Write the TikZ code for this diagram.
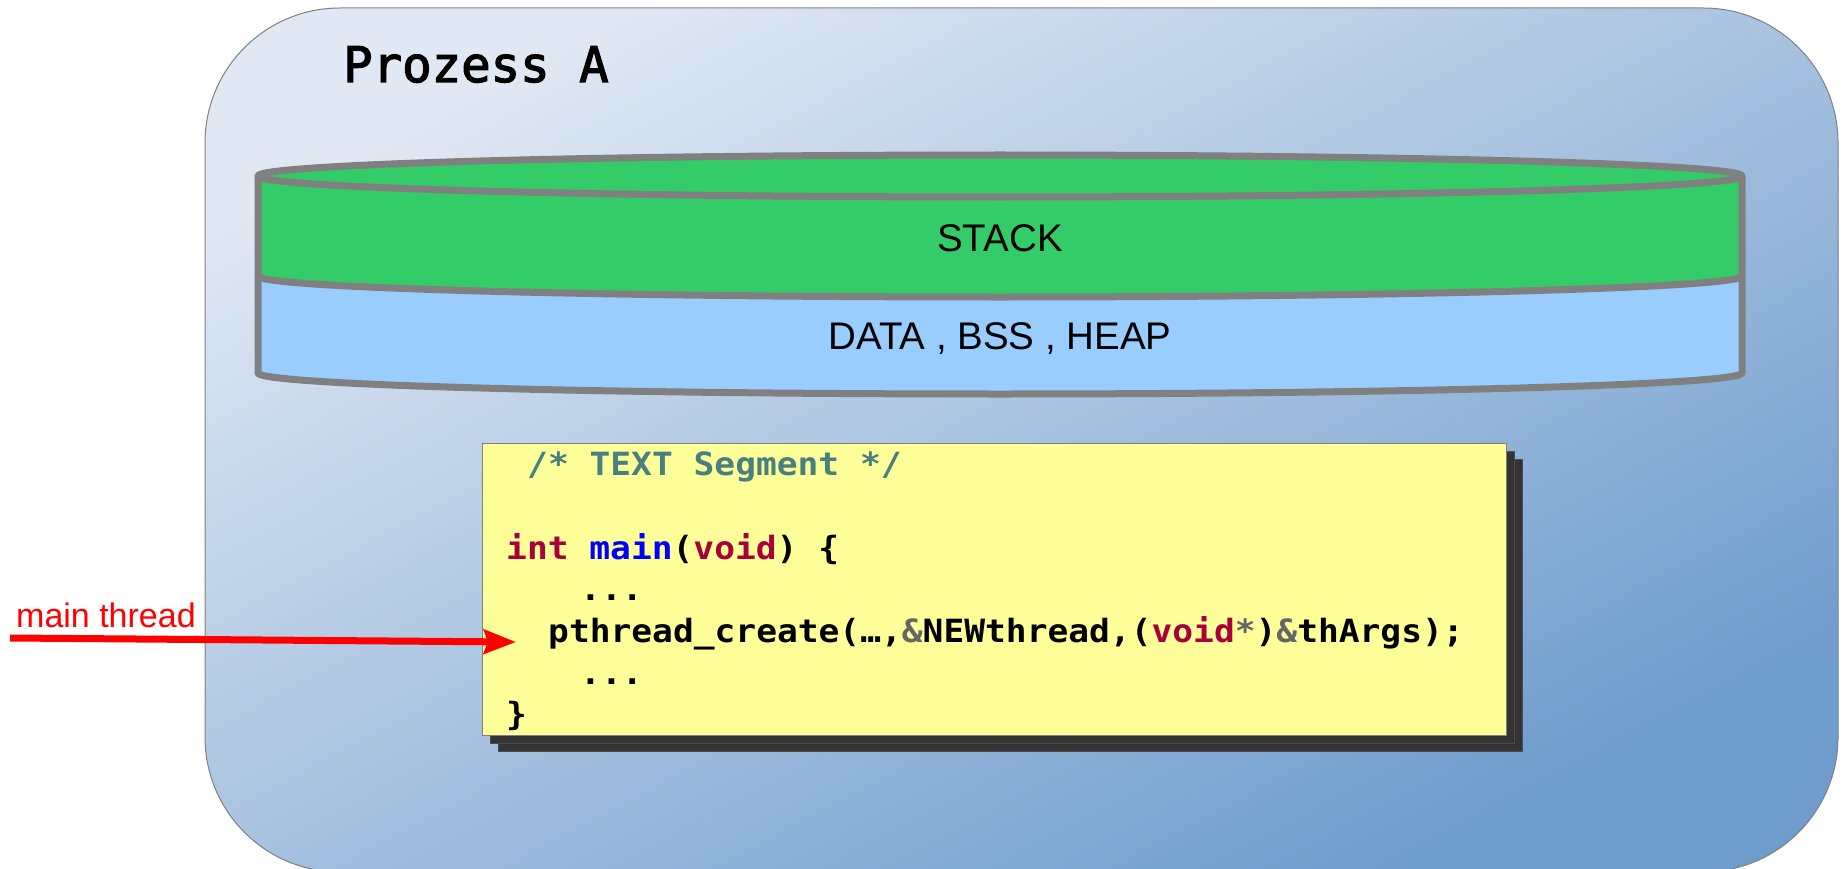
\documentclass[tikz,border=0pt]{standalone}
\usepackage{fontspec}
\setmainfont{Liberation Sans}
\newfontfamily\codefont[FakeStretch=1.08]{DejaVu Sans Mono}
\newfontfamily\procfont[FakeBold=2.5]{DejaVu Sans Mono}
\usetikzlibrary{arrows.meta}
\definecolor{bgA}{RGB}{224,232,243}
\definecolor{bgM}{RGB}{172,197,226}
\definecolor{bgB}{RGB}{110,156,205}
\definecolor{stackgreen}{RGB}{52,204,104}
\definecolor{datablue}{RGB}{153,204,255}
\definecolor{cylgray}{RGB}{128,128,128}
\definecolor{codeyellow}{RGB}{255,255,153}
\definecolor{shadowdark}{RGB}{51,51,51}
\definecolor{kwred}{RGB}{168,0,60}
\definecolor{fnblue}{RGB}{0,0,255}
\definecolor{cmteal}{RGB}{72,128,128}
\definecolor{opgray}{RGB}{102,102,102}
\begin{document}
\begin{tikzpicture}[x=1pt,y=-1pt,
  cylline/.style={draw=cylgray,line width=7pt,line join=round},
  segtext/.style={anchor=base,inner sep=0pt,font=\fontsize{38.5}{46}\selectfont},
  codeline/.style={anchor=base west,inner sep=0pt,font=\codefont\bfseries\fontsize{32}{38}\selectfont},
  shadowbox/.style={fill=shadowdark,draw=gray!60!black,line width=1pt},
  ell/.style={x radius=742,y radius=21}]
\useasboundingbox (0,0) rectangle (1843,869);
\clip (0,0) rectangle (1843,869);
% process background
\shade[draw=cylgray,line width=1pt,rounded corners=135pt,top color=bgA,middle color=bgM,bottom color=bgB,shading angle=28]
  (205,8) rectangle (1838,872);
\node[anchor=base west,inner sep=0pt,font=\procfont\fontsize{49}{58}\selectfont] (title) at (343,82) {Prozess A};
% cylinder
\path[fill=stackgreen] (258,176) -- (258,276) arc[start angle=180,end angle=0,ell]
  -- (1742,176) arc[start angle=0,end angle=-180,ell] -- cycle;
\path[fill=datablue] (258,276) -- (258,373) arc[start angle=180,end angle=0,ell]
  -- (1742,276) arc[start angle=0,end angle=180,ell] -- cycle;
\draw[cylline] (258,176) -- (258,373) arc[start angle=180,end angle=0,ell] -- (1742,176);
\draw[cylline] (1000,176) ellipse[ell];
\draw[cylline] (258,276) arc[start angle=180,end angle=0,ell];
\node[segtext] (stack) at (1000,251) {STACK};
\node[segtext] (data) at (1000,349) {DATA , BSS , HEAP};
% code box
\draw[shadowbox] (498,459) rectangle (1522,751);
\draw[shadowbox] (490,451) rectangle (1514,743);
\node[draw=cylgray,fill=codeyellow,line width=1pt,anchor=north west,inner sep=0pt,
  minimum width=1024pt,minimum height=292pt] (codebox) at (482,443) {};
\node[codeline] (l1) at (527,475) {\color{cmteal}/* TEXT Segment */};
\node[codeline] (l2) at (506,559) {{\color{kwred}int} {\color{fnblue}main}({\color{kwred}void}) \{};
\node[codeline] (l3) at (580,600) {...};
\node[codeline] (l4) at (548,642) {pthread\_create(…,{\color{opgray}\&}NEWthread,({\color{kwred}void}{\color{opgray}*}){\color{opgray}\&}thArgs);};
\node[codeline] (l5) at (580,684) {...};
\node[codeline] (l6) at (506,725) {\}};
% main thread arrow
\coordinate (mtstart) at (10,638);
\coordinate (mtend) at (516,642);
\draw[red,line width=7pt,-{Stealth[length=32pt,width=24pt,inset=4pt]}] (mtstart) -- (mtend);
\node[anchor=base west,inner sep=0pt,text=red,font=\fontsize{34}{40}\selectfont] (mtlabel) at (16,627) {main thread};
\end{tikzpicture}
\end{document}
